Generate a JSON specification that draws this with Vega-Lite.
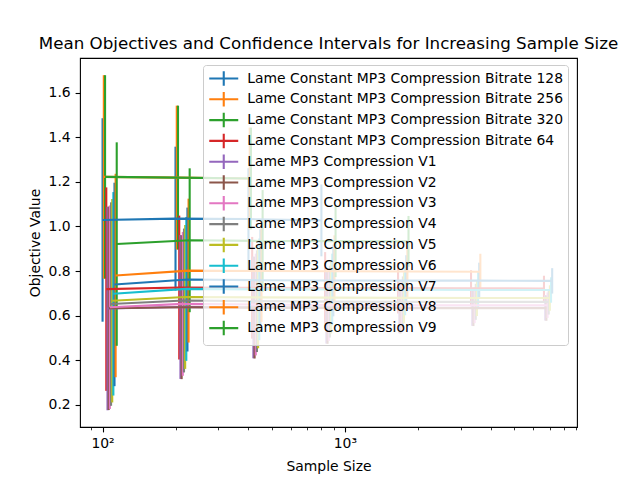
{
  "$schema": "https://vega.github.io/schema/vega-lite/v6.json",
  "width": 497,
  "height": 369,
  "autosize": "none",
  "padding": {"left": 80, "top": 58, "right": 63, "bottom": 53},
  "background": "white",
  "title": {
    "text": "Mean Objectives and Confidence Intervals for Increasing Sample Size",
    "font": "DejaVu Sans",
    "fontSize": 16.7,
    "fontWeight": "normal",
    "color": "black",
    "anchor": "middle",
    "offset": 5
  },
  "config": {
    "view": {"stroke": "black", "strokeWidth": 1.1},
    "axis": {
      "labelFont": "DejaVu Sans",
      "labelFontSize": 13.9,
      "labelColor": "black",
      "titleFont": "DejaVu Sans",
      "titleFontSize": 13.9,
      "titleFontWeight": "normal",
      "titleColor": "black",
      "domain": false,
      "grid": false,
      "tickColor": "black",
      "tickWidth": 1.1,
      "tickSize": 4.9,
      "labelPadding": 4.9
    },
    "legend": {
      "labelFont": "DejaVu Sans",
      "labelFontSize": 13.9,
      "labelColor": "black"
    }
  },
  "data": {
    "values": [
      {"s": "Lame Constant MP3 Compression Bitrate 128", "x": 100, "m": 1.029, "e": 0.456},
      {"s": "Lame Constant MP3 Compression Bitrate 128", "x": 200, "m": 1.035, "e": 0.3225},
      {"s": "Lame Constant MP3 Compression Bitrate 128", "x": 400, "m": 1.033, "e": 0.228},
      {"s": "Lame Constant MP3 Compression Bitrate 128", "x": 800, "m": 1.027, "e": 0.161},

      {"s": "Lame Constant MP3 Compression Bitrate 256", "x": 101.2, "m": 1.222, "e": 0.456},
      {"s": "Lame Constant MP3 Compression Bitrate 256", "x": 202.4, "m": 1.219, "e": 0.3225},
      {"s": "Lame Constant MP3 Compression Bitrate 256", "x": 404.8, "m": 1.215, "e": 0.228},

      {"s": "Lame Constant MP3 Compression Bitrate 320", "x": 102.4, "m": 1.222, "e": 0.456},
      {"s": "Lame Constant MP3 Compression Bitrate 320", "x": 204.8, "m": 1.219, "e": 0.3225},
      {"s": "Lame Constant MP3 Compression Bitrate 320", "x": 409.6, "m": 1.215, "e": 0.228},

      {"s": "Lame Constant MP3 Compression Bitrate 64", "x": 103.6, "m": 0.719, "e": 0.456},
      {"s": "Lame Constant MP3 Compression Bitrate 64", "x": 207.2, "m": 0.726, "e": 0.3225},
      {"s": "Lame Constant MP3 Compression Bitrate 64", "x": 414.4, "m": 0.725, "e": 0.228},
      {"s": "Lame Constant MP3 Compression Bitrate 64", "x": 828.8, "m": 0.724, "e": 0.161},
      {"s": "Lame Constant MP3 Compression Bitrate 64", "x": 1657.6, "m": 0.724, "e": 0.114},
      {"s": "Lame Constant MP3 Compression Bitrate 64", "x": 3315.2, "m": 0.723, "e": 0.0806},
      {"s": "Lame Constant MP3 Compression Bitrate 64", "x": 6630.4, "m": 0.722, "e": 0.057},

      {"s": "Lame MP3 Compression V1", "x": 104.8, "m": 0.632, "e": 0.456},
      {"s": "Lame MP3 Compression V1", "x": 209.6, "m": 0.639, "e": 0.3225},
      {"s": "Lame MP3 Compression V1", "x": 419.2, "m": 0.637, "e": 0.228},
      {"s": "Lame MP3 Compression V1", "x": 838.4, "m": 0.636, "e": 0.161},
      {"s": "Lame MP3 Compression V1", "x": 1676.8, "m": 0.635, "e": 0.114},
      {"s": "Lame MP3 Compression V1", "x": 3353.6, "m": 0.635, "e": 0.0806},
      {"s": "Lame MP3 Compression V1", "x": 6707.2, "m": 0.635, "e": 0.057},

      {"s": "Lame MP3 Compression V2", "x": 106, "m": 0.633, "e": 0.456},
      {"s": "Lame MP3 Compression V2", "x": 212, "m": 0.638, "e": 0.3225},
      {"s": "Lame MP3 Compression V2", "x": 424, "m": 0.636, "e": 0.228},
      {"s": "Lame MP3 Compression V2", "x": 848, "m": 0.635, "e": 0.161},
      {"s": "Lame MP3 Compression V2", "x": 1696, "m": 0.634, "e": 0.114},
      {"s": "Lame MP3 Compression V2", "x": 3392, "m": 0.634, "e": 0.0806},
      {"s": "Lame MP3 Compression V2", "x": 6784, "m": 0.634, "e": 0.057},

      {"s": "Lame MP3 Compression V3", "x": 107.2, "m": 0.638, "e": 0.456},
      {"s": "Lame MP3 Compression V3", "x": 214.4, "m": 0.653, "e": 0.3225},
      {"s": "Lame MP3 Compression V3", "x": 428.8, "m": 0.650, "e": 0.228},
      {"s": "Lame MP3 Compression V3", "x": 857.6, "m": 0.648, "e": 0.161},
      {"s": "Lame MP3 Compression V3", "x": 1715.2, "m": 0.647, "e": 0.114},
      {"s": "Lame MP3 Compression V3", "x": 3430.4, "m": 0.647, "e": 0.0806},
      {"s": "Lame MP3 Compression V3", "x": 6860.8, "m": 0.647, "e": 0.057},

      {"s": "Lame MP3 Compression V4", "x": 108.4, "m": 0.652, "e": 0.456},
      {"s": "Lame MP3 Compression V4", "x": 216.8, "m": 0.668, "e": 0.3225},
      {"s": "Lame MP3 Compression V4", "x": 433.6, "m": 0.665, "e": 0.228},
      {"s": "Lame MP3 Compression V4", "x": 867.2, "m": 0.663, "e": 0.161},
      {"s": "Lame MP3 Compression V4", "x": 1734.4, "m": 0.662, "e": 0.114},
      {"s": "Lame MP3 Compression V4", "x": 3468.8, "m": 0.662, "e": 0.0806},
      {"s": "Lame MP3 Compression V4", "x": 6937.6, "m": 0.662, "e": 0.057},

      {"s": "Lame MP3 Compression V5", "x": 109.6, "m": 0.667, "e": 0.456},
      {"s": "Lame MP3 Compression V5", "x": 219.2, "m": 0.684, "e": 0.3225},
      {"s": "Lame MP3 Compression V5", "x": 438.4, "m": 0.682, "e": 0.228},
      {"s": "Lame MP3 Compression V5", "x": 876.8, "m": 0.681, "e": 0.161},
      {"s": "Lame MP3 Compression V5", "x": 1753.6, "m": 0.680, "e": 0.114},
      {"s": "Lame MP3 Compression V5", "x": 3507.2, "m": 0.679, "e": 0.0806},
      {"s": "Lame MP3 Compression V5", "x": 7014.4, "m": 0.679, "e": 0.057},

      {"s": "Lame MP3 Compression V6", "x": 110.8, "m": 0.698, "e": 0.456},
      {"s": "Lame MP3 Compression V6", "x": 221.6, "m": 0.720, "e": 0.3225},
      {"s": "Lame MP3 Compression V6", "x": 443.2, "m": 0.718, "e": 0.228},
      {"s": "Lame MP3 Compression V6", "x": 886.4, "m": 0.717, "e": 0.161},
      {"s": "Lame MP3 Compression V6", "x": 1772.8, "m": 0.716, "e": 0.114},
      {"s": "Lame MP3 Compression V6", "x": 3545.6, "m": 0.715, "e": 0.0806},
      {"s": "Lame MP3 Compression V6", "x": 7091.2, "m": 0.715, "e": 0.057},

      {"s": "Lame MP3 Compression V7", "x": 112, "m": 0.740, "e": 0.456},
      {"s": "Lame MP3 Compression V7", "x": 224, "m": 0.762, "e": 0.3225},
      {"s": "Lame MP3 Compression V7", "x": 448, "m": 0.759, "e": 0.228},
      {"s": "Lame MP3 Compression V7", "x": 896, "m": 0.758, "e": 0.161},
      {"s": "Lame MP3 Compression V7", "x": 1792, "m": 0.757, "e": 0.114},
      {"s": "Lame MP3 Compression V7", "x": 3584, "m": 0.757, "e": 0.0806},
      {"s": "Lame MP3 Compression V7", "x": 7168, "m": 0.756, "e": 0.057},

      {"s": "Lame MP3 Compression V8", "x": 113.2, "m": 0.780, "e": 0.456},
      {"s": "Lame MP3 Compression V8", "x": 226.4, "m": 0.802, "e": 0.3225},
      {"s": "Lame MP3 Compression V8", "x": 452.8, "m": 0.800, "e": 0.228},
      {"s": "Lame MP3 Compression V8", "x": 905.6, "m": 0.799, "e": 0.161},
      {"s": "Lame MP3 Compression V8", "x": 1811.2, "m": 0.798, "e": 0.114},
      {"s": "Lame MP3 Compression V8", "x": 3622.4, "m": 0.797, "e": 0.0806},

      {"s": "Lame MP3 Compression V9", "x": 114.4, "m": 0.921, "e": 0.456},
      {"s": "Lame MP3 Compression V9", "x": 228.8, "m": 0.938, "e": 0.3225},
      {"s": "Lame MP3 Compression V9", "x": 457.6, "m": 0.935, "e": 0.228},
      {"s": "Lame MP3 Compression V9", "x": 915.2, "m": 0.934, "e": 0.161},
      {"s": "Lame MP3 Compression V9", "x": 1830.4, "m": 0.933, "e": 0.114}
    ]
  },
  "encoding": {
    "x": {
      "field": "x",
      "type": "quantitative",
      "title": "Sample Size",
      "scale": {"type": "log", "domain": [80.7, 9075], "nice": false},
      "axis": {
        "values": [90, 100, 200, 300, 400, 500, 600, 700, 800, 900, 1000, 2000, 3000, 4000, 5000, 6000, 7000, 8000, 9000],
        "labelExpr": "datum.value == 100 ? '10²' : datum.value == 1000 ? '10³' : ''",
        "tickSize": {"condition": {"test": "datum.value == 100 || datum.value == 1000", "value": 4.9}, "value": 2.8},
        "tickWidth": {"condition": {"test": "datum.value == 100 || datum.value == 1000", "value": 1.1}, "value": 0.8},
        "titlePadding": 9
      }
    },
    "color": {
      "field": "s",
      "type": "nominal",
      "scale": {
        "domain": [
          "Lame Constant MP3 Compression Bitrate 128",
          "Lame Constant MP3 Compression Bitrate 256",
          "Lame Constant MP3 Compression Bitrate 320",
          "Lame Constant MP3 Compression Bitrate 64",
          "Lame MP3 Compression V1",
          "Lame MP3 Compression V2",
          "Lame MP3 Compression V3",
          "Lame MP3 Compression V4",
          "Lame MP3 Compression V5",
          "Lame MP3 Compression V6",
          "Lame MP3 Compression V7",
          "Lame MP3 Compression V8",
          "Lame MP3 Compression V9"
        ],
        "range": ["#1f77b4", "#ff7f0e", "#2ca02c", "#d62728", "#9467bd", "#8c564b", "#e377c2", "#7f7f7f", "#bcbd22", "#17becf", "#1f77b4", "#ff7f0e", "#2ca02c"]
      },
      "legend": {
        "title": null,
        "orient": "none",
        "legendX": 123,
        "legendY": 7,
        "symbolType": "M-2,0L2,0M0,-1L0,1",
        "symbolSize": 210,
        "symbolStrokeWidth": 2.1,
        "symbolOffset": 7.25,
        "labelOffset": 15,
        "rowPadding": -2.2,
        "padding": 5,
        "fillColor": "rgba(255,255,255,0.8)",
        "strokeColor": "#cccccc",
        "cornerRadius": 3,
        "labelLimit": 400
      }
    }
  },
  "layer": [
    {
      "mark": {"type": "errorbar", "thickness": 2.1},
      "encoding": {
        "y": {
          "field": "m",
          "type": "quantitative",
          "title": "Objective Value",
          "scale": {"domain": [0.101, 1.755], "nice": false, "zero": false},
          "axis": {"values": [0.2, 0.4, 0.6, 0.8, 1.0, 1.2, 1.4, 1.6], "format": ".1f", "titlePadding": 6}
        },
        "yError": {"field": "e"}
      }
    },
    {
      "mark": {"type": "line", "strokeWidth": 2.1, "clip": true},
      "encoding": {
        "y": {"field": "m", "type": "quantitative"}
      }
    }
  ]
}
